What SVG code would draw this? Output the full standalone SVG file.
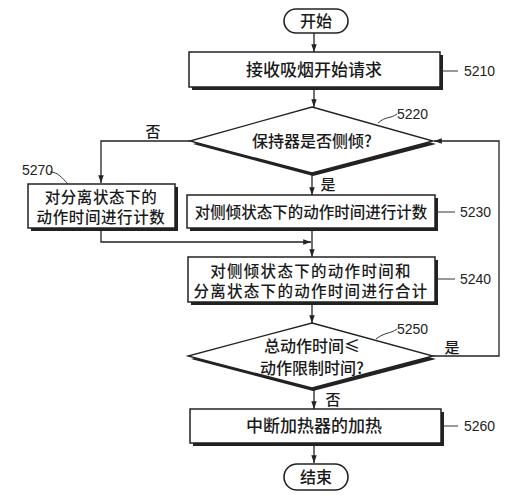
<svg xmlns="http://www.w3.org/2000/svg" width="530" height="501" viewBox="0 0 530 501">
<defs>
<marker id="arr" viewBox="0 0 10 10" refX="10" refY="5" markerWidth="6" markerHeight="6" orient="auto"><path d="M0,1.5 L10,5 L0,8.5 z" fill="#222"/></marker>
</defs>
<style>
.t{font-family:"Noto Sans CJK SC","Noto Sans",sans-serif;font-size:16px;fill:#1a1a1a;text-anchor:middle;font-weight:500}
.n{font-family:"Liberation Sans",Arial,sans-serif;font-size:14px;fill:#222}
.box{fill:#fff;stroke:#222;stroke-width:1.5}
.sh{fill:#222}
.ln{fill:none;stroke:#222;stroke-width:1.3}
.ld{fill:none;stroke:#333;stroke-width:1}
</style>
<rect width="530" height="501" fill="#fff"/>
<g id="connectors">
<path class="ln" d="M314,33 V52" marker-end="url(#arr)"/>
<path class="ln" d="M314,88 V107" marker-end="url(#arr)"/>
<path class="ln" d="M190,141 H101 V183" marker-end="url(#arr)"/>
<path class="ln" d="M312,174 V195" marker-end="url(#arr)"/>
<path class="ln" d="M101,229 V242 H311" marker-end="url(#arr)"/>
<path class="ln" d="M312,229 V257" marker-end="url(#arr)"/>
<path class="ln" d="M312,303 V323" marker-end="url(#arr)"/>
<path class="ln" d="M433,356 H499 V141 H434" marker-end="url(#arr)"/>
<path class="ln" d="M314,389 V409" marker-end="url(#arr)"/>
<path class="ln" d="M314,444 V463" marker-end="url(#arr)"/>
<text class="t" x="153" y="137" style="font-size:15px">否</text>
<text class="t" x="328" y="190" style="font-size:15px">是</text>
<text class="t" x="452" y="353" style="font-size:15px">是</text>
<text class="t" x="333" y="405" style="font-size:15px">否</text>
</g>
<g id="start">
<rect x="284" y="9" width="64" height="24" rx="12" fill="#fff" stroke="#222" stroke-width="1.6"/>
<text class="t" x="316" y="27">开始</text>
</g>
<g id="s5210">
<rect class="sh" x="192" y="55" width="251" height="35"/>
<rect class="box" x="189" y="52" width="251" height="35"/>
<text class="t" x="314" y="76" style="font-size:17px">接收吸烟开始请求</text>
<path class="ld" d="M442,71 H458"/>
<text class="n" x="464" y="76">5210</text>
</g>
<g id="s5220">
<polygon points="313,110 436,144 313,176 193,144" fill="#222"/>
<polygon points="312,107 433,141 312,173 190,141" fill="#fff" stroke="#222" stroke-width="1.3"/>
<text class="t" x="312" y="147">保持器是否侧倾?</text>
<path class="ld" d="M378,123 C386,116 390,119 397,114"/>
<text class="n" x="397" y="119">5220</text>
</g>
<g id="s5270">
<rect class="sh" x="31" y="187" width="147" height="44"/>
<rect class="box" x="28" y="184" width="147" height="44"/>
<text class="t" x="101" y="203" style="font-size:15.5px;letter-spacing:0.6px">对分离状态下的</text>
<text class="t" x="101" y="223" style="font-size:15.5px;letter-spacing:0.6px">动作时间进行计数</text>
<path class="ld" d="M50,172 C58,172 62,178 68,184"/>
<text class="n" x="22" y="175">5270</text>
</g>
<g id="s5230">
<rect class="sh" x="190" y="198" width="248" height="33"/>
<rect class="box" x="187" y="195" width="248" height="33"/>
<text class="t" x="311" y="218" style="font-size:15.5px">对侧倾状态下的动作时间进行计数</text>
<path class="ld" d="M437,212 H455"/>
<text class="n" x="460" y="217">5230</text>
</g>
<g id="s5240">
<rect class="sh" x="191" y="260" width="247" height="45"/>
<rect class="box" x="188" y="257" width="247" height="45"/>
<text class="t" x="311" y="277" style="font-size:15.5px;letter-spacing:1.3px">对侧倾状态下的动作时间和</text>
<text class="t" x="311" y="297" style="font-size:15.5px;letter-spacing:1.3px">分离状态下的动作时间进行合计</text>
<path class="ld" d="M437,279 H455"/>
<text class="n" x="460" y="284">5240</text>
</g>
<g id="s5250">
<polygon points="313,326 436,359 313,391 191,359" fill="#222"/>
<polygon points="312,323 433,356 312,388 188,356" fill="#fff" stroke="#222" stroke-width="1.3"/>
<text class="t" x="312" y="352">总动作时间≤</text>
<text class="t" x="312" y="374">动作限制时间?</text>
<path class="ld" d="M376,339 C385,332 390,334 397,329"/>
<text class="n" x="397" y="334">5250</text>
</g>
<g id="s5260">
<rect class="sh" x="193" y="412" width="251" height="34"/>
<rect class="box" x="190" y="409" width="251" height="34"/>
<text class="t" x="314" y="432" style="font-size:17px">中断加热器的加热</text>
<path class="ld" d="M443,426 H458"/>
<text class="n" x="464" y="431">5260</text>
</g>
<g id="end">
<rect x="284" y="464" width="64" height="26" rx="13" fill="#fff" stroke="#222" stroke-width="1.6"/>
<text class="t" x="316" y="483">结束</text>
</g>
</svg>
